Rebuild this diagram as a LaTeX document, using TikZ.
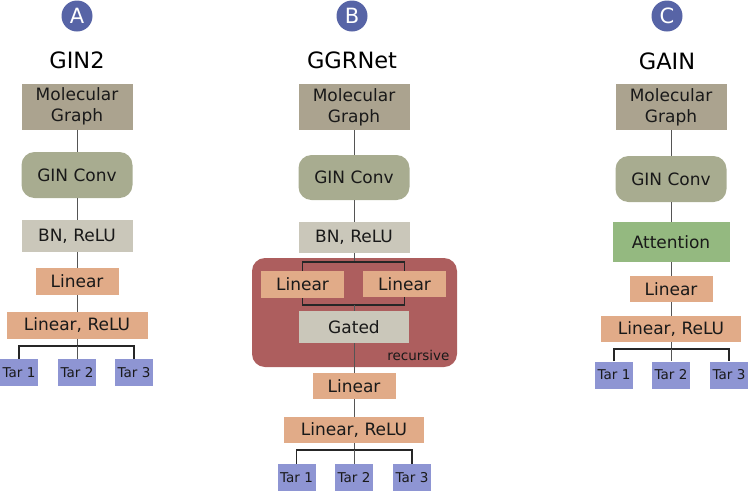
\documentclass[tikz,border=0pt]{standalone}
\usepackage{fontspec}
\setmainfont{DejaVu Sans}
\usetikzlibrary{positioning}
\definecolor{molgray}{HTML}{ABA38F}
\definecolor{gingreen}{HTML}{A8AC90}
\definecolor{bnpale}{HTML}{CAC7BA}
\definecolor{linorange}{HTML}{E1AB88}
\definecolor{tarblue}{HTML}{8E95D3}
\definecolor{attgreen}{HTML}{94B980}
\definecolor{recred}{HTML}{AD5E5E}
\definecolor{badgeblue}{HTML}{5764A6}
\definecolor{wiregray}{HTML}{555555}
\tikzset{
  block/.style={inner sep=0pt, align=center, text=black!90, font=\fontsize{17}{21}\selectfont},
  molbox/.style={block, fill=molgray, minimum width=111pt, minimum height=46pt},
  ginbox/.style={block, fill=gingreen, rounded corners=13pt, minimum width=111pt, minimum height=46pt},
  bnbox/.style={block, fill=bnpale, minimum width=111pt, minimum height=32pt},
  linbox/.style={block, fill=linorange, minimum width=83pt, minimum height=27pt},
  lrbox/.style={block, fill=linorange, minimum width=141pt, minimum height=27pt},
  tarbox/.style={block, fill=tarblue, minimum width=38pt, minimum height=27pt, font=\fontsize{13.5}{16}\selectfont},
  badge/.style={circle, fill=badgeblue, minimum size=31pt, inner sep=0pt, text=white, font=\fontsize{21}{21}\selectfont},
  modeltitle/.style={font=\fontsize{22.5}{26}\selectfont},
  wire/.style={draw=wiregray, line width=1pt},
  fork/.style={draw=black!85, line width=1.1pt}
}

\begin{document}
\begin{tikzpicture}[x=1pt,y=-1pt]
  \useasboundingbox (0,0) rectangle (748,491);

  % A: GIN2
  \node[badge] (bA) at (77,16) {A};
  \node[modeltitle] (tA) at (77,60) {GIN2};
  \node[molbox] (molA) at (77,106.5) {Molecular\\Graph};
  \node[ginbox] (ginA) at (77,175) {GIN Conv};
  \node[bnbox] (bnA) at (77,236) {BN, ReLU};
  \node[linbox] (linA) at (77,281.5) {Linear};
  \node[lrbox] (lrA) at (77,325.5) {Linear, ReLU};
  \draw[wire] (molA) -- (ginA) -- (bnA) -- (linA) -- (lrA);

  % B: GGRNet
  \node[badge] (bB) at (352,16) {B};
  \node[modeltitle] (tB) at (352,60) {GGRNet};
  \node[molbox] (molB) at (354,107) {Molecular\\Graph};
  \node[ginbox, minimum height=45pt] (ginB) at (354,177.5) {GIN Conv};
  \node[bnbox, minimum height=31pt] (bnB) at (354,237.5) {BN, ReLU};
  \node[fill=recred, rounded corners=13pt, minimum width=205pt, minimum height=109pt] (recB) at (354.5,312.5) {};
  \node[anchor=base east, text=black!90, font=\fontsize{13.5}{16}\selectfont] (recT) at (453,360) {recursive};
  \node[linbox] (linB1) at (302.5,284.5) {Linear};
  \node[linbox, minimum height=26pt] (linB2) at (404.5,284) {Linear};
  \node[bnbox, minimum width=110pt] (gateB) at (354,327) {Gated};
  \node[linbox, minimum height=26pt] (linB) at (354,386) {Linear};
  \node[lrbox, minimum width=140pt, minimum height=26pt] (lrB) at (354,430) {Linear, ReLU};
  \coordinate (spB) at (354,262);
  \coordinate (mgB) at (354,305);
  \draw[wire] (molB) -- (ginB) -- (bnB);
  \draw[wire] (bnB) -- (spB);
  \draw[fork] (linB1.north) |- (spB) -| (linB2.north);
  \draw[fork] (linB1.south) |- (mgB) -| (linB2.south);
  \draw[wire] (mgB) -- (gateB);
  \draw[wire] (gateB) -- (linB) -- (lrB);

  % C: GAIN
  \node[badge] (bC) at (667,16) {C};
  \node[modeltitle] (tC) at (667,61) {GAIN};
  \node[molbox] (molC) at (671,107) {Molecular\\Graph};
  \node[ginbox] (ginC) at (671,179) {GIN Conv};
  \node[block, fill=attgreen, minimum width=117pt, minimum height=40pt] (attC) at (671,242) {Attention};
  \node[linbox, minimum height=26pt] (linC) at (671,289) {Linear};
  \node[lrbox, minimum width=140pt, minimum height=26pt] (lrC) at (671,329) {Linear, ReLU};
  \draw[wire] (molC) -- (ginC) -- (attC) -- (linC) -- (lrC);

  % targets
  \foreach \c/\k/\x/\y in {A/1/19/372.5, A/2/77/372.5, A/3/134/372.5,
                           B/1/296.5/477.5, B/2/354/477.5, B/3/412/477.5,
                           C/1/614/375, C/2/671/375, C/3/729/375}
    \node[tarbox] (tar\c\k) at (\x,\y) {Tar \k};
  \foreach \c/\x/\y in {A/77/346, B/354/450, C/671/349}{
    \coordinate (fk\c) at (\x,\y);
    \draw[wire] (lr\c) -- (fk\c);
    \draw[fork] (tar\c1.north) |- (fk\c) -| (tar\c3.north);
    \draw[wire] (fk\c) -- (tar\c2.north);
  }
\end{tikzpicture}
\end{document}
